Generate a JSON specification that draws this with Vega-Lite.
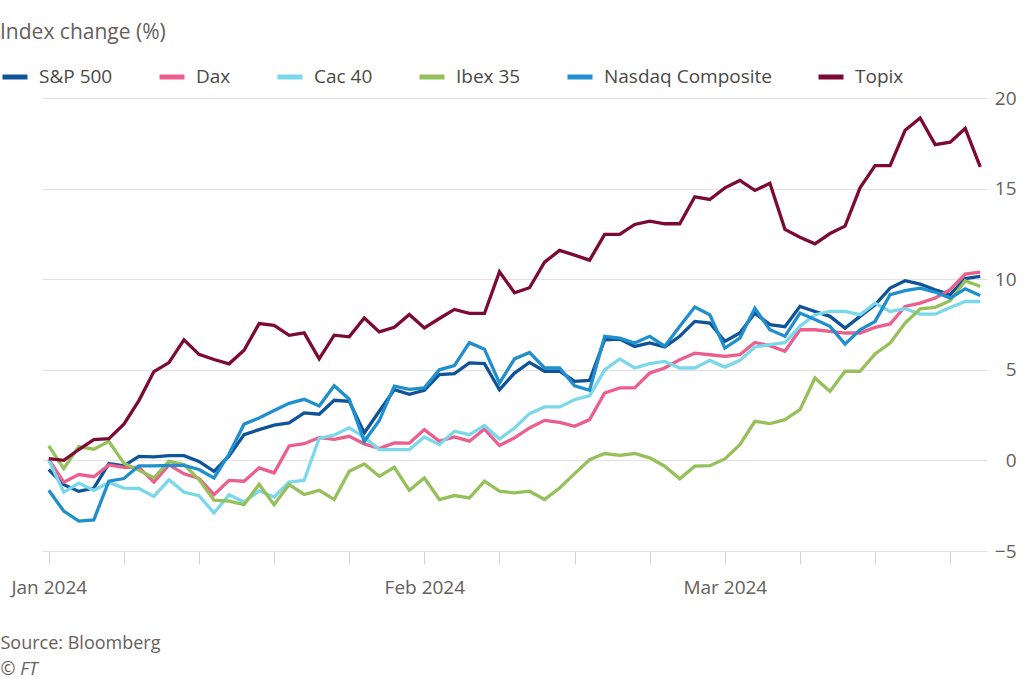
{
  "$schema": "https://vega.github.io/schema/vega-lite/v6.json",
  "width": 945,
  "height": 453,
  "autosize": {"type": "none"},
  "padding": {"left": 42, "top": 98, "right": 37, "bottom": 128},
  "background": "#ffffff",
  "data": {"values": [
    {"date": "2024-01-02", "S&P 500": -0.51, "Dax": 0.04, "Cac 40": 0.0, "Ibex 35": 0.8, "Nasdaq Composite": -1.65, "Topix": 0.1},
    {"date": "2024-01-03", "S&P 500": -1.34, "Dax": -1.2, "Cac 40": -1.75, "Ibex 35": -0.45, "Nasdaq Composite": -2.8, "Topix": 0.0},
    {"date": "2024-01-04", "S&P 500": -1.71, "Dax": -0.78, "Cac 40": -1.25, "Ibex 35": 0.76, "Nasdaq Composite": -3.35, "Topix": 0.6},
    {"date": "2024-01-05", "S&P 500": -1.53, "Dax": -0.9, "Cac 40": -1.65, "Ibex 35": 0.62, "Nasdaq Composite": -3.28, "Topix": 1.15},
    {"date": "2024-01-08", "S&P 500": -0.18, "Dax": -0.25, "Cac 40": -1.22, "Ibex 35": 1.05, "Nasdaq Composite": -1.15, "Topix": 1.2},
    {"date": "2024-01-09", "S&P 500": -0.3, "Dax": -0.38, "Cac 40": -1.53, "Ibex 35": -0.15, "Nasdaq Composite": -1.0, "Topix": 2.0},
    {"date": "2024-01-10", "S&P 500": 0.22, "Dax": -0.38, "Cac 40": -1.55, "Ibex 35": -0.55, "Nasdaq Composite": -0.3, "Topix": 3.3},
    {"date": "2024-01-11", "S&P 500": 0.2, "Dax": -1.2, "Cac 40": -1.99, "Ibex 35": -0.96, "Nasdaq Composite": -0.3, "Topix": 4.9},
    {"date": "2024-01-12", "S&P 500": 0.26, "Dax": -0.25, "Cac 40": -1.07, "Ibex 35": -0.05, "Nasdaq Composite": -0.28, "Topix": 5.4},
    {"date": "2024-01-15", "S&P 500": 0.26, "Dax": -0.74, "Cac 40": -1.75, "Ibex 35": -0.23, "Nasdaq Composite": -0.28, "Topix": 6.65},
    {"date": "2024-01-16", "S&P 500": -0.06, "Dax": -1.0, "Cac 40": -1.95, "Ibex 35": -1.06, "Nasdaq Composite": -0.5, "Topix": 5.85},
    {"date": "2024-01-17", "S&P 500": -0.61, "Dax": -1.89, "Cac 40": -2.9, "Ibex 35": -2.2, "Nasdaq Composite": -0.97, "Topix": 5.57},
    {"date": "2024-01-18", "S&P 500": 0.25, "Dax": -1.1, "Cac 40": -1.9, "Ibex 35": -2.25, "Nasdaq Composite": 0.35, "Topix": 5.33},
    {"date": "2024-01-19", "S&P 500": 1.42, "Dax": -1.15, "Cac 40": -2.3, "Ibex 35": -2.44, "Nasdaq Composite": 2.0, "Topix": 6.08},
    {"date": "2024-01-22", "S&P 500": 1.7, "Dax": -0.41, "Cac 40": -1.68, "Ibex 35": -1.32, "Nasdaq Composite": 2.34, "Topix": 7.55},
    {"date": "2024-01-23", "S&P 500": 1.95, "Dax": -0.69, "Cac 40": -2.02, "Ibex 35": -2.44, "Nasdaq Composite": 2.75, "Topix": 7.45},
    {"date": "2024-01-24", "S&P 500": 2.07, "Dax": 0.8, "Cac 40": -1.2, "Ibex 35": -1.33, "Nasdaq Composite": 3.15, "Topix": 6.9},
    {"date": "2024-01-25", "S&P 500": 2.62, "Dax": 0.92, "Cac 40": -1.1, "Ibex 35": -1.88, "Nasdaq Composite": 3.37, "Topix": 7.04},
    {"date": "2024-01-26", "S&P 500": 2.55, "Dax": 1.26, "Cac 40": 1.22, "Ibex 35": -1.65, "Nasdaq Composite": 3.0, "Topix": 5.6},
    {"date": "2024-01-29", "S&P 500": 3.32, "Dax": 1.16, "Cac 40": 1.4, "Ibex 35": -2.15, "Nasdaq Composite": 4.12, "Topix": 6.91},
    {"date": "2024-01-30", "S&P 500": 3.26, "Dax": 1.33, "Cac 40": 1.8, "Ibex 35": -0.6, "Nasdaq Composite": 3.38, "Topix": 6.82},
    {"date": "2024-01-31", "S&P 500": 1.52, "Dax": 0.91, "Cac 40": 1.28, "Ibex 35": -0.2, "Nasdaq Composite": 1.05, "Topix": 7.86},
    {"date": "2024-02-01", "S&P 500": 2.71, "Dax": 0.65, "Cac 40": 0.6, "Ibex 35": -0.88, "Nasdaq Composite": 2.2, "Topix": 7.09},
    {"date": "2024-02-02", "S&P 500": 3.9, "Dax": 0.96, "Cac 40": 0.6, "Ibex 35": -0.38, "Nasdaq Composite": 4.1, "Topix": 7.35},
    {"date": "2024-02-05", "S&P 500": 3.65, "Dax": 0.95, "Cac 40": 0.6, "Ibex 35": -1.65, "Nasdaq Composite": 3.92, "Topix": 8.05},
    {"date": "2024-02-06", "S&P 500": 3.87, "Dax": 1.7, "Cac 40": 1.29, "Ibex 35": -0.97, "Nasdaq Composite": 4.0, "Topix": 7.31},
    {"date": "2024-02-07", "S&P 500": 4.73, "Dax": 1.06, "Cac 40": 0.87, "Ibex 35": -2.16, "Nasdaq Composite": 5.0, "Topix": 7.83},
    {"date": "2024-02-08", "S&P 500": 4.79, "Dax": 1.29, "Cac 40": 1.61, "Ibex 35": -1.94, "Nasdaq Composite": 5.23, "Topix": 8.33},
    {"date": "2024-02-09", "S&P 500": 5.38, "Dax": 1.06, "Cac 40": 1.42, "Ibex 35": -2.07, "Nasdaq Composite": 6.5, "Topix": 8.11},
    {"date": "2024-02-12", "S&P 500": 5.34, "Dax": 1.73, "Cac 40": 1.92, "Ibex 35": -1.15, "Nasdaq Composite": 6.14, "Topix": 8.11},
    {"date": "2024-02-13", "S&P 500": 3.9, "Dax": 0.82, "Cac 40": 1.18, "Ibex 35": -1.7, "Nasdaq Composite": 4.27, "Topix": 10.41},
    {"date": "2024-02-14", "S&P 500": 4.82, "Dax": 1.24, "Cac 40": 1.79, "Ibex 35": -1.79, "Nasdaq Composite": 5.6, "Topix": 9.25},
    {"date": "2024-02-15", "S&P 500": 5.41, "Dax": 1.79, "Cac 40": 2.58, "Ibex 35": -1.7, "Nasdaq Composite": 5.96, "Topix": 9.53},
    {"date": "2024-02-16", "S&P 500": 4.92, "Dax": 2.21, "Cac 40": 2.95, "Ibex 35": -2.16, "Nasdaq Composite": 5.1, "Topix": 10.94},
    {"date": "2024-02-19", "S&P 500": 4.92, "Dax": 2.1, "Cac 40": 2.95, "Ibex 35": -1.52, "Nasdaq Composite": 5.1, "Topix": 11.59},
    {"date": "2024-02-20", "S&P 500": 4.36, "Dax": 1.88, "Cac 40": 3.35, "Ibex 35": -0.73, "Nasdaq Composite": 4.12, "Topix": 11.33},
    {"date": "2024-02-21", "S&P 500": 4.42, "Dax": 2.25, "Cac 40": 3.57, "Ibex 35": 0.04, "Nasdaq Composite": 3.87, "Topix": 11.05},
    {"date": "2024-02-22", "S&P 500": 6.65, "Dax": 3.72, "Cac 40": 5.0, "Ibex 35": 0.38, "Nasdaq Composite": 6.85, "Topix": 12.47},
    {"date": "2024-02-23", "S&P 500": 6.7, "Dax": 4.0, "Cac 40": 5.6, "Ibex 35": 0.28, "Nasdaq Composite": 6.75, "Topix": 12.47},
    {"date": "2024-02-26", "S&P 500": 6.29, "Dax": 4.0, "Cac 40": 5.1, "Ibex 35": 0.38, "Nasdaq Composite": 6.48, "Topix": 13.02},
    {"date": "2024-02-27", "S&P 500": 6.48, "Dax": 4.82, "Cac 40": 5.34, "Ibex 35": 0.14, "Nasdaq Composite": 6.85, "Topix": 13.2},
    {"date": "2024-02-28", "S&P 500": 6.26, "Dax": 5.1, "Cac 40": 5.46, "Ibex 35": -0.32, "Nasdaq Composite": 6.3, "Topix": 13.06},
    {"date": "2024-02-29", "S&P 500": 6.85, "Dax": 5.56, "Cac 40": 5.1, "Ibex 35": -1.02, "Nasdaq Composite": 7.4, "Topix": 13.06},
    {"date": "2024-03-01", "S&P 500": 7.67, "Dax": 5.92, "Cac 40": 5.1, "Ibex 35": -0.32, "Nasdaq Composite": 8.46, "Topix": 14.55},
    {"date": "2024-03-04", "S&P 500": 7.58, "Dax": 5.83, "Cac 40": 5.52, "Ibex 35": -0.29, "Nasdaq Composite": 8.04, "Topix": 14.4},
    {"date": "2024-03-05", "S&P 500": 6.57, "Dax": 5.74, "Cac 40": 5.15, "Ibex 35": 0.08, "Nasdaq Composite": 6.2, "Topix": 15.04},
    {"date": "2024-03-06", "S&P 500": 7.03, "Dax": 5.83, "Cac 40": 5.52, "Ibex 35": 0.87, "Nasdaq Composite": 6.75, "Topix": 15.45},
    {"date": "2024-03-07", "S&P 500": 8.13, "Dax": 6.51, "Cac 40": 6.26, "Ibex 35": 2.16, "Nasdaq Composite": 8.4, "Topix": 14.9},
    {"date": "2024-03-08", "S&P 500": 7.49, "Dax": 6.33, "Cac 40": 6.39, "Ibex 35": 2.03, "Nasdaq Composite": 7.21, "Topix": 15.29},
    {"date": "2024-03-11", "S&P 500": 7.38, "Dax": 6.02, "Cac 40": 6.5, "Ibex 35": 2.25, "Nasdaq Composite": 6.85, "Topix": 12.75},
    {"date": "2024-03-12", "S&P 500": 8.5, "Dax": 7.21, "Cac 40": 7.4, "Ibex 35": 2.8, "Nasdaq Composite": 8.13, "Topix": 12.32},
    {"date": "2024-03-13", "S&P 500": 8.22, "Dax": 7.21, "Cac 40": 8.04, "Ibex 35": 4.55, "Nasdaq Composite": 7.77, "Topix": 11.95},
    {"date": "2024-03-14", "S&P 500": 7.95, "Dax": 7.12, "Cac 40": 8.22, "Ibex 35": 3.81, "Nasdaq Composite": 7.4, "Topix": 12.52},
    {"date": "2024-03-15", "S&P 500": 7.3, "Dax": 7.03, "Cac 40": 8.22, "Ibex 35": 4.92, "Nasdaq Composite": 6.42, "Topix": 12.93},
    {"date": "2024-03-18", "S&P 500": 7.95, "Dax": 7.03, "Cac 40": 8.04, "Ibex 35": 4.92, "Nasdaq Composite": 7.21, "Topix": 15.04},
    {"date": "2024-03-19", "S&P 500": 8.59, "Dax": 7.34, "Cac 40": 8.68, "Ibex 35": 5.87, "Nasdaq Composite": 7.67, "Topix": 16.27},
    {"date": "2024-03-20", "S&P 500": 9.51, "Dax": 7.53, "Cac 40": 8.22, "Ibex 35": 6.48, "Nasdaq Composite": 9.15, "Topix": 16.27},
    {"date": "2024-03-21", "S&P 500": 9.92, "Dax": 8.5, "Cac 40": 8.37, "Ibex 35": 7.58, "Nasdaq Composite": 9.37, "Topix": 18.22},
    {"date": "2024-03-22", "S&P 500": 9.73, "Dax": 8.68, "Cac 40": 8.07, "Ibex 35": 8.37, "Nasdaq Composite": 9.51, "Topix": 18.9},
    {"date": "2024-03-25", "S&P 500": 9.42, "Dax": 8.96, "Cac 40": 8.07, "Ibex 35": 8.45, "Nasdaq Composite": 9.29, "Topix": 17.43},
    {"date": "2024-03-26", "S&P 500": 9.15, "Dax": 9.42, "Cac 40": 8.44, "Ibex 35": 8.81, "Nasdaq Composite": 8.96, "Topix": 17.56},
    {"date": "2024-03-27", "S&P 500": 10.03, "Dax": 10.28, "Cac 40": 8.77, "Ibex 35": 9.92, "Nasdaq Composite": 9.47, "Topix": 18.32},
    {"date": "2024-03-28", "S&P 500": 10.15, "Dax": 10.39, "Cac 40": 8.77, "Ibex 35": 9.6, "Nasdaq Composite": 9.1, "Topix": 16.2}
  ]},
  "transform": [
    {"fold": ["S&P 500", "Dax", "Cac 40", "Ibex 35", "Nasdaq Composite", "Topix"], "as": ["index", "value"]}
  ],
  "mark": {"type": "line", "strokeWidth": 3.3},
  "encoding": {
    "x": {
      "field": "date",
      "type": "ordinal",
      "sort": "ascending",
      "scale": {"type": "point", "padding": 0.45},
      "axis": {
        "values": ["2024-01-02", "2024-01-09", "2024-01-16", "2024-01-23", "2024-01-30", "2024-02-06", "2024-02-13", "2024-02-20", "2024-02-27", "2024-03-05", "2024-03-12", "2024-03-19", "2024-03-26"],
        "labelExpr": "datum.value == '2024-01-02' ? 'Jan 2024' : datum.value == '2024-02-06' ? 'Feb 2024' : datum.value == '2024-03-05' ? 'Mar 2024' : ''",
        "labelAngle": 0,
        "labelOverlap": false,
        "labelFontSize": 19,
        "labelColor": "#66605c",
        "labelPadding": 14,
        "tickSize": 13,
        "tickColor": "#d6d3d0",
        "tickWidth": 1,
        "domain": false,
        "grid": false,
        "title": "Source: Bloomberg",
        "titleX": -42,
        "titleY": 92,
        "titleAlign": "left",
        "titleAnchor": "start",
        "titleBaseline": "middle",
        "titleFontSize": 18,
        "titleFontWeight": "normal",
        "titleColor": "#66605c"
      }
    },
    "y": {
      "field": "value",
      "type": "quantitative",
      "scale": {"domain": [-5, 20], "nice": false, "zero": false},
      "axis": {
        "orient": "right",
        "values": [-5, 0, 5, 10, 15, 20],
        "grid": true,
        "gridColor": "#e3e1de",
        "gridWidth": 1,
        "domain": false,
        "ticks": false,
        "labelAlign": "right",
        "labelPadding": 29,
        "labelBaseline": "middle",
        "labelFontSize": 19,
        "labelColor": "#66605c",
        "title": "© FT",
        "titleX": -987,
        "titleY": 571,
        "titleAngle": 0,
        "titleAlign": "left",
        "titleBaseline": "middle",
        "titleFontStyle": "italic",
        "titleFontSize": 18,
        "titleFontWeight": "normal",
        "titleColor": "#66605c"
      }
    },
    "color": {
      "field": "index",
      "type": "nominal",
      "scale": {
        "domain": ["S&P 500", "Dax", "Cac 40", "Ibex 35", "Nasdaq Composite", "Topix"],
        "range": ["#0f5499", "#eb5e8d", "#7ad8ea", "#96c05a", "#208fce", "#7d0a34"]
      },
      "legend": {
        "orient": "none",
        "legendX": -42,
        "legendY": -76,
        "direction": "horizontal",
        "title": "Index change (%)",
        "titleOrient": "top",
        "titleAnchor": "start",
        "titleFontSize": 21,
        "titleFontWeight": "normal",
        "titleColor": "#66605c",
        "titlePadding": 19,
        "symbolType": "stroke",
        "symbolSize": 625,
        "symbolStrokeWidth": 5,
        "labelFontSize": 19,
        "labelColor": "#4d4845",
        "labelOffset": 9,
        "columnPadding": 36,
        "padding": 0,
        "labelLimit": 300
      }
    }
  },
  "config": {
    "view": {"stroke": null},
    "font": "Open Sans"
  }
}
